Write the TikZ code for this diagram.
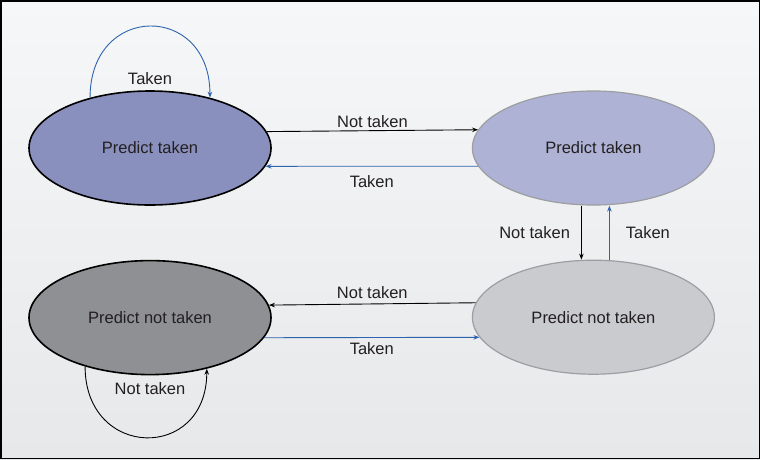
\documentclass[tikz,border=0pt]{standalone}
\usepackage{fontspec}
\setmainfont{Liberation Sans}
\usepackage{tikz}
\usetikzlibrary{arrows.meta,positioning,shapes.geometric,calc}
\definecolor{lavender}{HTML}{8A90BE}
\definecolor{lightlav}{HTML}{AEB2D4}
\definecolor{darkgrey}{HTML}{8E9094}
\definecolor{lightgrey}{HTML}{C9CBCE}
\definecolor{rim}{HTML}{9C9EA2}
\definecolor{arrowblue}{HTML}{2F63AD}
\definecolor{ink}{HTML}{231F20}
\definecolor{paper}{HTML}{F6F7F8}
\definecolor{mist}{HTML}{E6E8E9}

\begin{document}
\begin{tikzpicture}[x=1pt,y=1pt,node distance=54pt and 200pt,>={Stealth[length=6pt,width=4.5pt]}, every node/.style={font=\fontsize{16.5}{19}\selectfont,text=ink,inner sep=2pt}, state/.style={ellipse,minimum width=242pt,minimum height=114pt,line width=1.6pt}]
\useasboundingbox (0,0) rectangle (760,-459);
\shade[top color=paper,bottom color=mist] (0,0) rectangle (760,-459);
\node[state,fill=lavender,draw=black] (strongT) at (150,-148) {Predict taken};
\node[state,fill=lightlav,draw=rim,line width=1.2pt,right=of strongT] (weakT) {Predict taken};
\node[state,fill=darkgrey,draw=black,below=of strongT] (strongN) {Predict not taken};
\node[state,fill=lightgrey,draw=rim,line width=1.2pt,below=of weakT] (weakN) {Predict not taken};
\draw[->,line width=0.9pt] (strongT.8.4) -- node[above=1pt] (topNot) {Not taken} (weakT.171.6);
\draw[->,arrowblue,line width=0.9pt] (weakT.189.5) -- node[below=7pt] (topTak) {Taken} (strongT.-9.5);
\draw[->,line width=0.9pt] ([xshift=-12pt]weakT.south) -- node[left=9pt] (midNot) {Not taken} ([xshift=-12pt]weakN.north);
\draw[->,arrowblue,line width=0.9pt] ([xshift=16pt]weakN.north) -- node[right=14pt] (midTak) {Taken} ([xshift=16pt]weakT.south);
\draw[->,line width=0.9pt] (weakN.173.2) -- node[above=3pt] (botNot) {Not taken} (strongN.6.8);
\draw[->,arrowblue,line width=0.9pt] (strongN.-10) -- node[below=3pt] (botTak) {Taken} (weakN.190);
\draw[->,arrowblue,line width=0.9pt] (strongT.140.6) .. controls +(0,95) and +(0,95) .. (strongT.40.4);
\node[above=3pt of strongT] (loopTak) {Taken};
\draw[->,line width=0.9pt] (strongN.217) .. controls +(0,-93) and +(0,-93) .. (strongN.-42);
\node[below=5pt of strongN] (loopNot) {Not taken};
\draw[line width=1.5pt] (0.75,-0.75) rectangle (759.25,-458.25);
\end{tikzpicture}
\end{document}
